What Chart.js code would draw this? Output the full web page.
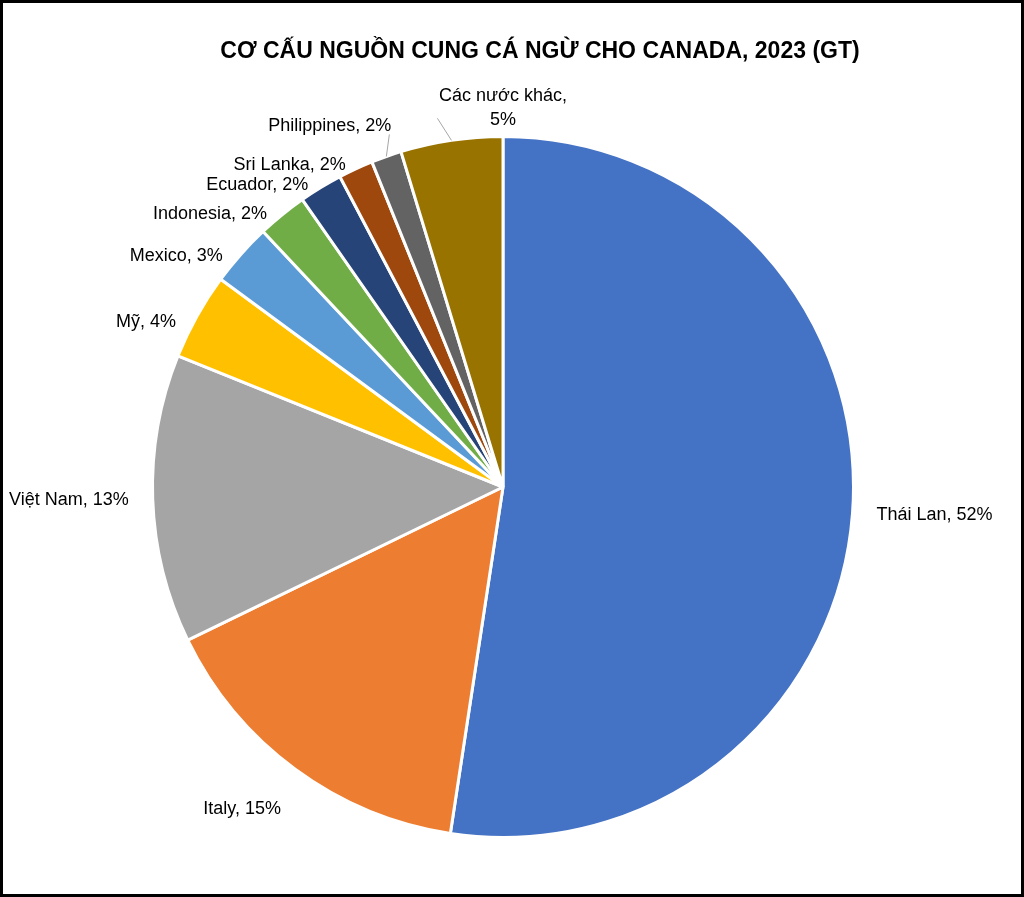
<!DOCTYPE html>
<html>
<head>
<meta charset="utf-8">
<script src="https://cdn.jsdelivr.net/npm/chart.js@4"></script>
<style>
  html, body { margin: 0; padding: 0; background: #fff; }
  #wrap { width: 1024px; height: 897px; }
</style>
</head>
<body>
<div id="wrap"><canvas id="tuna_pie" width="1024" height="897"></canvas></div>
<script>
const countries = ['Thái Lan', 'Italy', 'Việt Nam', 'Mỹ', 'Mexico', 'Indonesia', 'Ecuador', 'Sri Lanka', 'Philippines', 'Các nước khác'];
const shares = [52.4, 15.4, 13.3, 4.0, 2.9, 2.3, 2.0, 1.6, 1.4, 4.7];
const shareLabels = ['52%', '15%', '13%', '4%', '3%', '2%', '2%', '2%', '2%', '5%'];
const colors = ['#4472C4', '#ED7D31', '#A5A5A5', '#FFC000', '#5B9BD5', '#70AD47', '#264478', '#9E480E', '#636363', '#997300'];

const el = document.getElementById('tuna_pie');

const outsideLabels = {
  id: 'outsideLabels',
  afterDraw(chart) {
    const ctx = chart.ctx;
    ctx.save();
    // frame
    ctx.strokeStyle = '#000';
    ctx.lineWidth = 6;
    ctx.strokeRect(0, 0, chart.width, chart.height);
    // title
    ctx.fillStyle = '#000';
    ctx.font = 'bold 23px "Liberation Sans", Arial, sans-serif';
    ctx.textAlign = 'center';
    ctx.textBaseline = 'middle';
    ctx.fillText('CƠ CẤU NGUỒN CUNG CÁ NGỪ CHO CANADA, 2023 (GT)', 540, 52);

    ctx.font = '18px "Liberation Sans", Arial, sans-serif';
    const meta = chart.getDatasetMeta(0);
    meta.data.forEach((arc, i) => {
      const p = arc.getProps(['x', 'y', 'startAngle', 'endAngle', 'outerRadius'], true);
      const mid = (p.startAngle + p.endAngle) / 2;
      const cos = Math.cos(mid), sin = Math.sin(mid);
      const name = countries[i];
      const val = shareLabels[i];
      if (i === countries.length - 1) {
        // label above the slice with a leader line
        const ex = p.x + p.outerRadius * cos, ey = p.y + p.outerRadius * sin;
        ctx.strokeStyle = '#A6A6A6'; ctx.lineWidth = 1;
        ctx.beginPath(); ctx.moveTo(ex, ey); ctx.lineTo(ex - 14, ey - 22); ctx.stroke();
        ctx.textAlign = 'center';
        ctx.fillText(name + ',', p.x + 0, 96);
        ctx.fillText(val, p.x + 0, 120);
        return;
      }
      if (i === 8) {
        const ex = p.x + p.outerRadius * cos, ey = p.y + p.outerRadius * sin;
        ctx.strokeStyle = '#A6A6A6'; ctx.lineWidth = 1;
        ctx.beginPath(); ctx.moveTo(ex, ey); ctx.lineTo(ex + 3, ey - 22); ctx.stroke();
        ctx.textAlign = 'right';
        ctx.fillText(name + ', ' + val, ex + 5, ey - 30);
        return;
      }
      const r = p.outerRadius + 24;
      let lx = p.x + r * cos, ly = p.y + r * sin;
      if (cos < 0 && sin < 0) ly += 18;
      if (i === 1) ly += 20;
      ctx.textAlign = cos >= 0 ? 'left' : 'right';
      ctx.fillText(name + ', ' + val, lx, ly);
    });
    ctx.restore();
  }
};

new Chart(el, {
  type: 'pie',
  data: {
    labels: countries,
    datasets: [{
      data: shares,
      backgroundColor: colors,
      borderColor: '#fff',
      borderWidth: 3
    }]
  },
  options: {
    responsive: false,
    animation: false,
    layout: { padding: { top: 135, bottom: 58, left: 151, right: 169 } },
    plugins: {
      legend: { display: false },
      title: { display: false },
      tooltip: { enabled: false }
    }
  },
  plugins: [outsideLabels]
});
</script>
</body>
</html>
